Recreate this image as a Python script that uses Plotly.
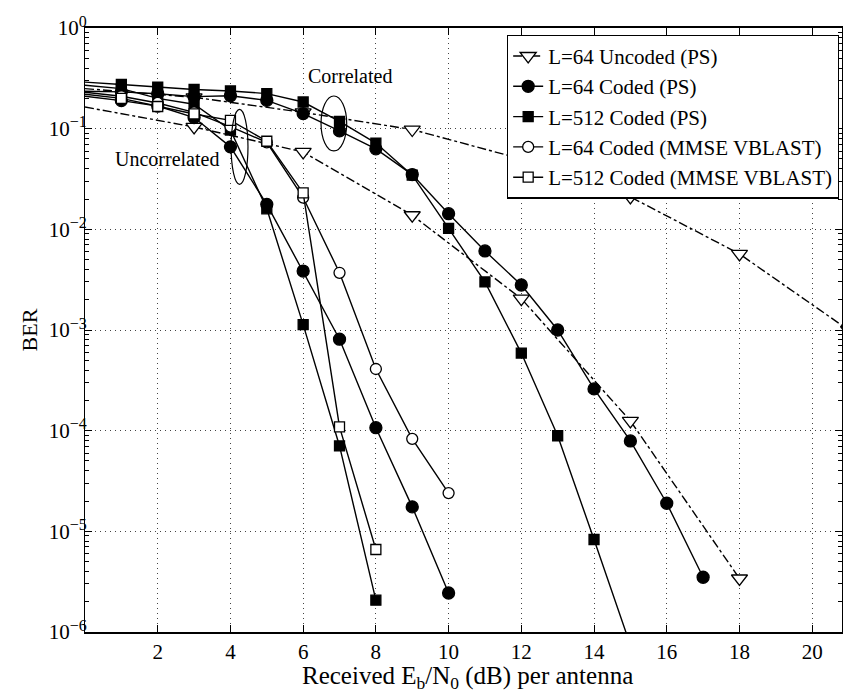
import plotly.graph_objects as go

# ---------------- data ----------------
x_unc_corr = [0, 3, 6, 9, 12, 15, 18, 21]
ber_unc_corr = [0.25, 0.205, 0.145, 0.098, 0.05, 0.021, 0.0057, 0.001]
x_unc_uncorr = [0, 3, 6, 9, 12, 15, 18]
ber_unc_uncorr = [0.164, 0.104, 0.0587, 0.0138, 0.00205, 1.25e-4, 3.4e-6]

x_c64_corr = [0, 1, 2, 3, 4, 5, 6, 7, 8, 9, 10, 11, 12, 13, 14, 15, 16, 17]
ber_c64_corr = [0.235, 0.232, 0.222, 0.208, 0.212, 0.191, 0.141, 0.095, 0.063, 0.035,
                0.0143, 0.0061, 0.0028, 0.001, 2.6e-4, 7.9e-5, 1.9e-5, 3.5e-6]
x_c64_uncorr = [0, 1, 2, 3, 4, 5, 6, 7, 8, 9, 10]
ber_c64_uncorr = [0.21, 0.19, 0.168, 0.129, 0.066, 0.0177, 0.00385, 8.1e-4, 1.07e-4, 1.75e-5, 2.44e-6]

x_c512_corr = [0, 1, 2, 3, 4, 5, 6, 7, 8, 9, 10, 11, 12, 13, 14, 15]
ber_c512_corr = [0.29, 0.275, 0.258, 0.245, 0.237, 0.223, 0.184, 0.118, 0.072, 0.0345,
                 0.0102, 0.003, 5.9e-4, 8.9e-5, 8.3e-6, 7.4e-7]
x_c512_uncorr = [0, 1, 2, 3, 4, 5, 6, 7, 8]
ber_c512_uncorr = [0.27, 0.25, 0.2, 0.175, 0.097, 0.016, 0.00113, 7.05e-5, 2.07e-6]

x_m64 = [0, 1, 2, 3, 4, 5, 6, 7, 8, 9, 10]
ber_m64 = [0.23, 0.21, 0.18, 0.145, 0.105, 0.073, 0.0207, 0.0037, 4.1e-4, 8.3e-5, 2.4e-5]
x_m512 = [0, 1, 2, 3, 4, 5, 6, 7, 8]
ber_m512 = [0.22, 0.2, 0.166, 0.14, 0.121, 0.075, 0.023, 1.09e-4, 6.6e-6]

names = ["L=64 Uncoded (PS)", "L=64 Coded (PS)", "L=512 Coded (PS)",
         "L=64 Coded (MMSE VBLAST)", "L=512 Coded (MMSE VBLAST)"]

x_ticks = [2, 4, 6, 8, 10, 12, 14, 16, 18, 20]
y_tickvals = [1, 1e-1, 1e-2, 1e-3, 1e-4, 1e-5, 1e-6]
y_exponents = ["0", "−1", "−2", "−3", "−4", "−5", "−6"]
y_ticktext = ["10<sup><span style='font-size:16px'>" + e + "</span></sup>" for e in y_exponents]
x_title = "Received E<sub>b</sub>/N<sub>0</sub> (dB) per antenna"

# ---------------- figure ----------------
FONT = "Liberation Serif"
fig = go.Figure()


def add_branch(x, y, name, symbol, size, fill, dash, show):
    line = dict(color="black", width=1.4, dash=dash)
    # first segment (from the left edge) without a marker
    fig.add_trace(go.Scatter(x=x[:2], y=y[:2], mode="lines", line=line, showlegend=False,
                             hoverinfo="skip", legendgroup=name))
    fig.add_trace(go.Scatter(x=x[1:], y=y[1:], mode="lines+markers", name=name,
                             line=line, legendgroup=name, showlegend=show,
                             marker=dict(symbol=symbol, size=size, color=fill,
                                         line=dict(color="black", width=1.3))))


add_branch(x_unc_corr, ber_unc_corr, names[0], "triangle-down", 14, "white", "dashdot", True)
add_branch(x_unc_uncorr, ber_unc_uncorr, names[0], "triangle-down", 14, "white", "dashdot", False)
add_branch(x_c64_corr, ber_c64_corr, names[1], "circle", 12, "black", "solid", True)
add_branch(x_c64_uncorr, ber_c64_uncorr, names[1], "circle", 12, "black", "solid", False)
add_branch(x_c512_corr, ber_c512_corr, names[2], "square", 10, "black", "solid", True)
add_branch(x_c512_uncorr, ber_c512_uncorr, names[2], "square", 10, "black", "solid", False)
add_branch(x_m64, ber_m64, names[3], "circle", 11, "white", "solid", True)
add_branch(x_m512, ber_m512, names[4], "square", 10, "white", "solid", True)

grid = dict(showgrid=True, gridcolor="#444444", gridwidth=1, griddash="1px,4px")

fig.update_xaxes(range=[0, 20.82], tickvals=x_ticks, ticks="inside", ticklen=7,
                 tickcolor="black", showline=True, linecolor="black", linewidth=2,
                 mirror="allticks", zeroline=False,
                 tickfont=dict(family=FONT, size=21, color="black"),
                 **grid)
fig.update_yaxes(type="log", range=[-6, 0], tickvals=y_tickvals, ticktext=y_ticktext,
                 ticks="inside", ticklen=7, tickcolor="black", showline=True,
                 linecolor="black", linewidth=1.2, mirror="allticks", zeroline=False,
                 tickfont=dict(family=FONT, size=21, color="black"),
                 ticklabelstandoff=-7,
                 minor=dict(ticks="inside", ticklen=4, tickcolor="black", dtick="D1",
                            showgrid=False),
                 title=dict(text="BER", font=dict(family=FONT, size=22, color="black"),
                            standoff=4),
                 **grid)

# x-axis title placed as a paper annotation so it can sit close to the tick labels
fig.add_annotation(text=x_title, xref="paper", yref="paper", x=0.505, y=-0.0758,
                   xanchor="center", yanchor="middle", showarrow=False,
                   font=dict(family=FONT, size=25, color="black"))

# ellipses marking the two groups (paper coordinates)
fig.add_shape(type="circle", xref="paper", yref="paper", x0=0.193, x1=0.2153,
              y0=0.7412, y1=0.8654, line=dict(color="black", width=1.2))
fig.add_shape(type="circle", xref="paper", yref="paper", x0=0.3118, x1=0.3457,
              y0=0.7964, y1=0.8874, line=dict(color="black", width=1.2))

fig.add_annotation(text="Correlated", xref="paper", yref="paper", x=0.350, y=0.920,
                   xanchor="center", yanchor="middle",
                   showarrow=False, font=dict(family=FONT, size=20, color="black"))
fig.add_annotation(text="Uncorrelated", xref="paper", yref="paper", x=0.108, y=0.7826,
                   xanchor="center", yanchor="middle",
                   showarrow=False, font=dict(family=FONT, size=20, color="black"))

fig.update_layout(
    width=846, height=693,
    margin=dict(l=85, r=4, t=28, b=61),
    paper_bgcolor="white", plot_bgcolor="white",
    font=dict(family=FONT, color="black"),
    legend=dict(x=0.996, y=0.989, xanchor="right", yanchor="top",
                bgcolor="white", bordercolor="black", borderwidth=1.2,
                font=dict(family=FONT, size=21, color="black"),
                tracegroupgap=0, itemwidth=30),
)

fig.write_html("out.html")
